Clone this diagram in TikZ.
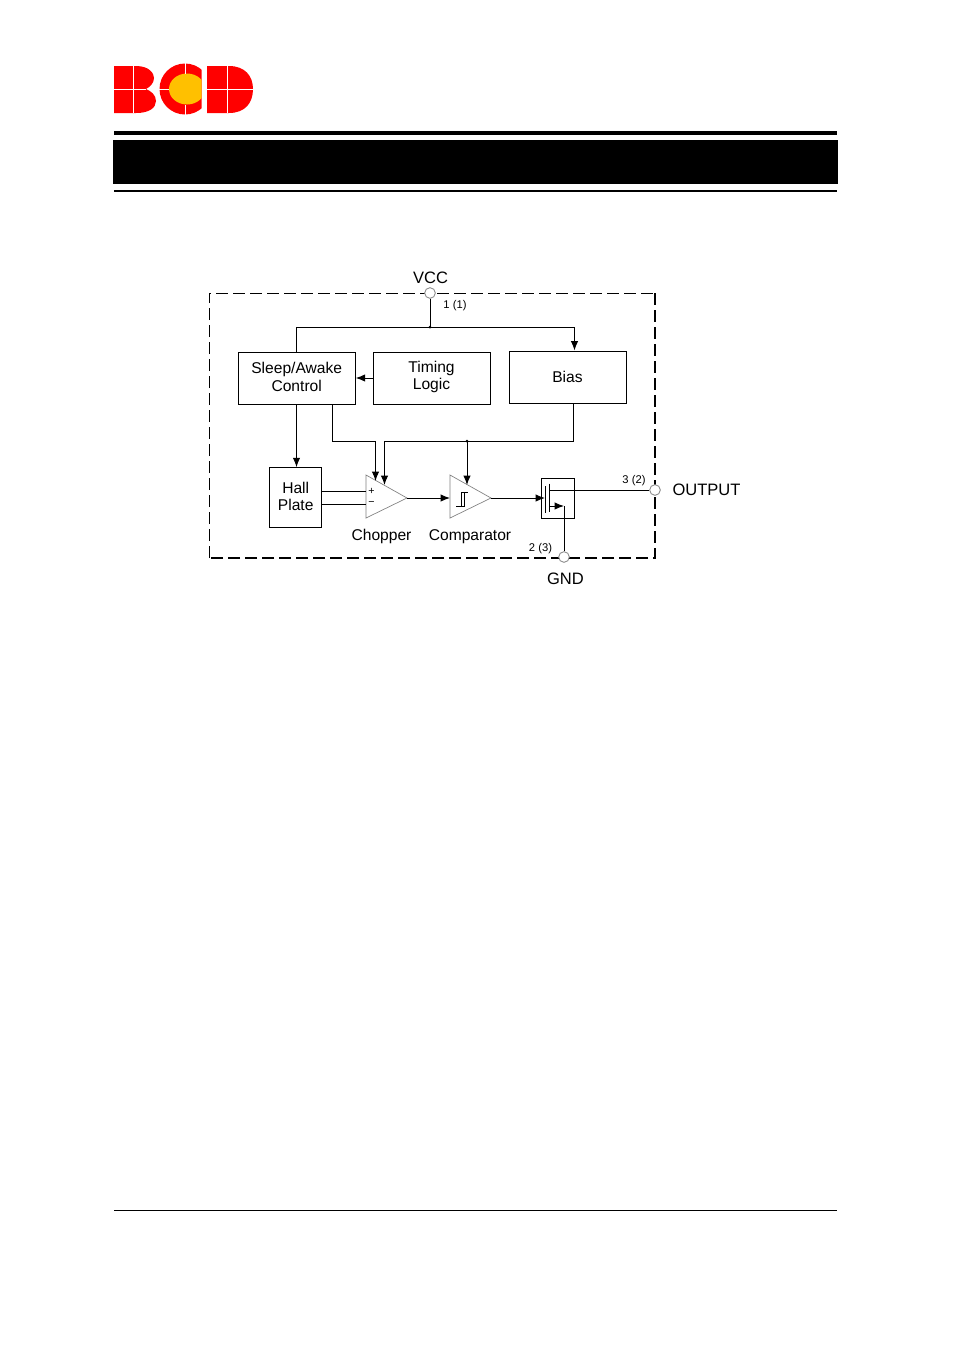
\documentclass[tikz,border=0pt]{standalone}
\usepackage{fontspec}
\setmainfont{Liberation Sans}
\usetikzlibrary{arrows.meta}
\definecolor{logored}{RGB}{255,0,0}
\definecolor{logoyellow}{RGB}{255,192,0}
\definecolor{pingray}{RGB}{130,130,130}
\tikzset{
  x=0.75pt,y=-0.75pt,
  wire/.style={line width=0.75pt,draw=black},
  arr/.style={wire,-{Latex[length=7pt,width=5.5pt]}},
  blockbox/.style={draw=black,line width=0.75pt,inner sep=0pt,align=center,font=\fontsize{11.7}{12.8}\selectfont},
  lab/.style={inner sep=0pt,align=center,anchor=base,font=\fontsize{11.7}{12.8}\selectfont},
  pinlab/.style={inner sep=0pt,align=center,font=\fontsize{12.4}{12.8}\selectfont},
  small/.style={inner sep=0pt,font=\fontsize{8.4}{9}\selectfont},
  pin/.style={circle,draw=pingray,fill=white,line width=0.6pt,minimum size=8pt,inner sep=0pt},
  opamp/.style={draw=gray,line width=0.5pt,fill=white},
  gap/.style={draw=white,line width=0.6pt},
  framethin/.style={line width=0.75pt,dash pattern=on 9pt off 3.75pt},
  framethick/.style={line width=1.2pt,dash pattern=on 9pt off 3.75pt}
}
\begin{document}
\begin{tikzpicture}
\path[use as bounding box,fill=white] (0,0) rectangle (954,1350);
% logo
\fill[logored] (114,66) -- (136,66) .. controls (150,66) and (154,74) .. (154,78) .. controls (154,83) and (150,87) .. (146,89) .. controls (151,91) and (156,95) .. (156,101) .. controls (156,108) and (149,113) .. (136,113) -- (114,113) -- cycle;
\begin{scope}
\clip (155,60) rectangle (201.5,120);
\fill[logored] (185,89) circle (25.5);
\fill[logoyellow] (187,89) ellipse (18 and 15.5);
\end{scope}
\fill[logored] (207,66) -- (229,66) .. controls (245,66) and (253,76) .. (253,89) .. controls (253,103) and (245,113) .. (229,113) -- (207,113) -- cycle;
\draw[gap] (133,66) -- (133,113) (114,89.5) -- (146,89.5);
\draw[gap] (185,63) -- (185,73.5) (185,104.5) -- (185,115) (159,89.5) -- (169,89.5);
\draw[gap] (227,66) -- (227,113) (207,89.5) -- (253,89.5);
% header rules
\fill[black] (114,131) rectangle (837,135);
\fill[black] (113,140) rectangle (838,184);
\fill[black] (114,190) rectangle (837,192);
\fill[black] (114,1210) rectangle (837,1211);
% frame
\draw[framethin] (209,558) -- (209,293) -- (655,293);
\draw[framethick] (655,293) -- (655,558) -- (209,558);
% blocks
\node[blockbox,minimum width=87.75pt,minimum height=39pt] (sleep) at (296.7,378) {\raisebox{-2.2pt}[0pt][0pt]{\parbox{87pt}{\centering Sleep/Awake\\Control}}};
\node[blockbox,minimum width=87.75pt,minimum height=39pt] (timing) at (431.5,378) {\raisebox{-2.2pt}[0pt][0pt]{\parbox{87pt}{\centering Timing\\Logic}}};
\node[blockbox,minimum width=87.75pt,minimum height=39pt] (bias) at (567.5,377) {Bias};
\node[blockbox,minimum width=39pt,minimum height=45pt] (hall) at (295.7,497.7) {\raisebox{-2.2pt}[0pt][0pt]{\parbox{38pt}{\centering Hall\\Plate}}};
\node[draw=black,line width=0.75pt,minimum width=24.75pt,minimum height=30pt,inner sep=0pt] (fet) at (557.5,498) {};
% amplifiers
\coordinate (choptop) at (366,475);
\coordinate (chopbot) at (366,518);
\coordinate (chopout) at (407,498);
\coordinate (comptop) at (450,475);
\coordinate (compbot) at (450,518);
\coordinate (compout) at (491,498);
\draw[opamp] (choptop) -- (chopout) -- (chopbot) -- cycle;
\draw[opamp] (comptop) -- (compout) -- (compbot) -- cycle;
\node[inner sep=0pt,font=\fontsize{8}{8}\selectfont] (plus) at (371.5,491) {+};
\node[inner sep=0pt,font=\fontsize{8}{8}\selectfont] (minus) at (371.5,504) {−};
\draw[line width=0.6pt] (456,506) -- (464,506) -- (464,492);
\draw[line width=0.6pt] (461,506) -- (461,492) -- (468,492);
% pins
\node[pin] (vcc) at (430,293) {};
\node[pin] (out) at (655,490) {};
\node[pin] (gnd) at (564,557) {};
% junctions
\coordinate (j1) at (430,327);
\coordinate (jl) at (296.5,327);
\coordinate (jr) at (574.5,327);
\coordinate (j2) at (467,441);
\fill (j1) circle (1.5);
\fill (j2) circle (1.5);
% wires
\draw[wire] (vcc) -- (j1);
\draw[wire] (sleep.north -| jl) -- (jl) -- (jr);
\draw[arr] (jr) -- (jr |- bias.north);
\draw[arr] (timing.west) -- (sleep.east);
\coordinate (sh) at (296.5,404);
\draw[arr] (sh) -- (sh |- hall.north);
\coordinate (sa) at (332.5,404);
\coordinate (sb) at (332.5,441);
\coordinate (sc) at (375.5,441);
\coordinate (sd) at (375.5,481);
\draw[arr] (sa) -- (sb) -- (sc) -- (sd);
\coordinate (ba) at (573.5,403);
\coordinate (bb) at (573.5,441);
\coordinate (bc) at (384.5,441);
\coordinate (bd) at (384.5,485);
\draw[arr] (ba) -- (bb) -- (bc) -- (bd);
\coordinate (ce) at (467,485);
\draw[arr] (j2) -- (ce);
\coordinate (h1) at (366,491);
\coordinate (h2) at (366,504.5);
\draw[wire] (hall.east |- h1) -- (h1);
\draw[wire] (hall.east |- h2) -- (h2);
\coordinate (compin) at (450,498);
\draw[arr] (chopout) -- (compin);
\coordinate (gate) at (545,498);
\draw[arr] (compout) -- (gate);
% MOSFET
\coordinate (g1) at (545,486);
\coordinate (g2) at (545,513);
\coordinate (c1) at (549,483.5);
\coordinate (c2) at (549,512);
\coordinate (drain) at (549,490);
\coordinate (source) at (549,506);
\coordinate (sk) at (564,506);
\draw[wire] (g1) -- (g2);
\draw[wire] (c1) -- (c2);
\draw[wire] (drain) -- (out);
\draw[wire] (sk) -- (gnd);
\draw[arr] (source) -- (sk);
% labels
\node[pinlab] (tvcc) at (430.5,277.5) {VCC};
\node[pinlab] (tout) at (706.5,489.5) {OUTPUT};
\node[pinlab] (tgnd) at (565.5,578.5) {GND};
\node[lab] (tchop) at (381.5,540.5) {Chopper};
\node[lab] (tcomp) at (470,540.5) {Comparator};
\node[small] (n1) at (455,306) {1 (1)};
\node[small] (n3) at (634,480.5) {3 (2)};
\node[small] (n2) at (540.5,549) {2 (3)};
\end{tikzpicture}
\end{document}
